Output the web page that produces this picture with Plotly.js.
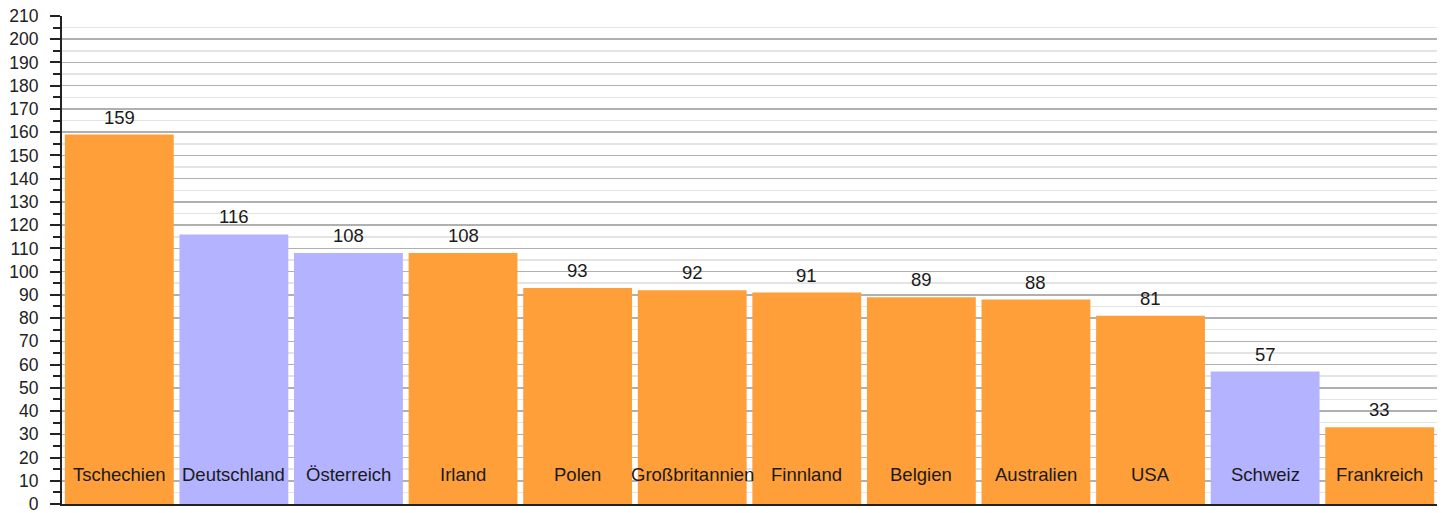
<!DOCTYPE html>
<html>
<head>
<meta charset="utf-8">
<script src="https://cdn.plot.ly/plotly-3.0.1.min.js"></script>
<style>html,body{margin:0;padding:0;background:#fff}#chart{width:1445px;height:513px}</style>
</head>
<body>
<div id="chart"></div>
<script>
const categories = ["Tschechien","Deutschland","Österreich","Irland","Polen","Großbritannien","Finnland","Belgien","Australien","USA","Schweiz","Frankreich"];
const values = [159,116,108,108,93,92,91,89,88,81,57,33];
const groups = ["o","b","b","o","o","o","o","o","o","o","b","o"];
const yTicks = [0,10,20,30,40,50,60,70,80,90,100,110,120,130,140,150,160,170,180,190,200,210];

const colorMap = {o:"#FF9F3A", b:"#B3B3FF"};
const FONT = "Liberation Sans, Arial, sans-serif";
const trace = {
  type:"bar", x:categories, y:values,
  marker:{color:groups.map(g=>colorMap[g]), line:{width:0}},
  hoverinfo:"none"
};
const annotations = [];
categories.forEach((c,i)=>{
  annotations.push({x:c, y:values[i], text:String(values[i]), showarrow:false, yanchor:"bottom", yshift:5,
    font:{family:FONT, size:18.5, color:"#1a1a1a"}});
  annotations.push({x:c, y:12.5, text:c, showarrow:false, yanchor:"middle",
    font:{family:FONT, size:18.5, color:"#1a1a1a"}});
});
const layout = {
  width:1445, height:513,
  margin:{l:62, r:8, t:16, b:9},
  paper_bgcolor:"#fff", plot_bgcolor:"#fff",
  bargap:0.05,
  showlegend:false,
  xaxis:{showticklabels:false, ticks:"", showgrid:false, zeroline:false,
    showline:true, linecolor:"#222", linewidth:2},
  yaxis:{range:[0,210], tickvals:yTicks, ticktext:yTicks.map(String),
    ticks:"outside", ticklen:10, tickwidth:2, tickcolor:"#222",
    ticklabelstandoff:8, ticklabeloverflow:"allow",
    showline:true, linecolor:"#222", linewidth:2,
    showgrid:true, gridcolor:"#b0b0b0", gridwidth:1.5, zeroline:false,
    tickfont:{family:FONT, size:17.5, color:"#222"},
    minor:{dtick:5, tick0:0, ticks:"outside", ticklen:7, tickwidth:2, tickcolor:"#222", showgrid:true, gridcolor:"#e4e4e4", gridwidth:1.5}
  },
  annotations:annotations
};
Plotly.newPlot("chart",[trace],layout,{displayModeBar:false,staticPlot:true});
</script>
</body>
</html>
